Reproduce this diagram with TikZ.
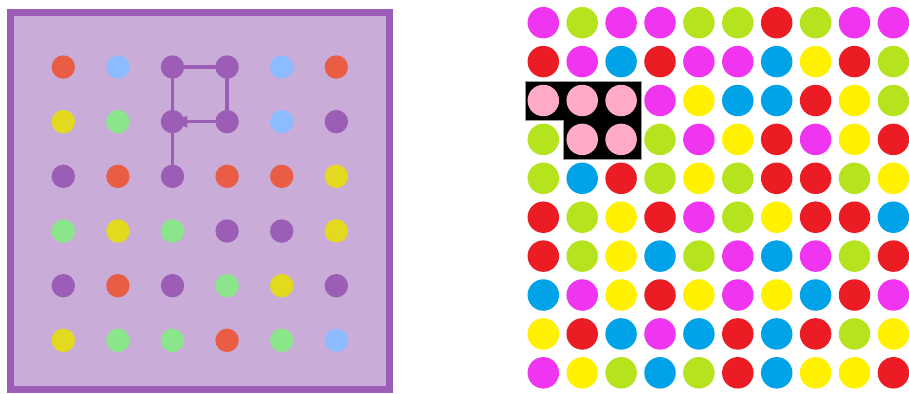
\documentclass[tikz,border=0pt]{standalone}
\usetikzlibrary{arrows.meta,backgrounds}
\definecolor{boxfill}{HTML}{C9ADD8}
\definecolor{lpurple}{HTML}{9B5DB5}
\definecolor{lred}{HTML}{E95D45}
\definecolor{lblue}{HTML}{8CBBFF}
\definecolor{lyellow}{HTML}{E3DA1F}
\definecolor{lgreen}{HTML}{8BE68B}
\definecolor{rmag}{HTML}{F035F0}
\definecolor{rlime}{HTML}{B5E31E}
\definecolor{rred}{HTML}{EC1C24}
\definecolor{rblue}{HTML}{00A2E8}
\definecolor{ryellow}{HTML}{FFF100}
\definecolor{rpink}{HTML}{FFAAC9}

\begin{document}
\begin{tikzpicture}[x=0.02cm, y=-0.02cm,
  ldot/.style={circle, inner sep=0pt, minimum size=0.468cm},
  rdot/.style={circle, inner sep=0pt, minimum size=0.63cm},
  link/.style={draw=lpurple, line width=2pt}]
\useasboundingbox (0,0) rectangle (909,393);
% left board
\foreach \rowlist [count=\r] in {
  {lred,lblue,lpurple,lpurple,lblue,lred},
  {lyellow,lgreen,lpurple,lpurple,lblue,lpurple},
  {lpurple,lred,lpurple,lred,lred,lyellow},
  {lgreen,lyellow,lgreen,lpurple,lpurple,lyellow},
  {lpurple,lred,lpurple,lgreen,lyellow,lpurple},
  {lyellow,lgreen,lgreen,lred,lgreen,lblue}}{
  \foreach \clr [count=\c] in \rowlist
    \node[ldot, fill=\clr] (l-\r-\c) at ({63.3+54.6*(\c-1)},{67+54.67*(\r-1)}) {};
}
\begin{scope}[on background layer]
\draw[draw=lpurple, fill=boxfill, line width=0.14cm] (10.5,12.5) rectangle (389,389.5);
\draw[link] (l-3-3.center) -- (l-2-3.center) -- (l-1-3.center) -- (l-1-4.center) -- (l-2-4.center);
\draw[link, -{Triangle[length=0.3cm, width=0.22cm]}] (l-2-4.center) -- (l-2-3.center);
\end{scope}
% right board
\draw[fill=black, draw=black!40, line width=0.4pt]
  (525,81) -- (641,81) -- (641,159) -- (563,159) -- (563,120) -- (525,120) -- cycle;
\foreach \rowlist [count=\r] in {
  {rmag,rlime,rmag,rmag,rlime,rlime,rred,rlime,rmag,rmag},
  {rred,rmag,rblue,rred,rmag,rmag,rblue,ryellow,rred,rlime},
  {rpink,rpink,rpink,rmag,ryellow,rblue,rblue,rred,ryellow,rlime},
  {rlime,rpink,rpink,rlime,rmag,ryellow,rred,rmag,ryellow,rred},
  {rlime,rblue,rred,rlime,ryellow,rlime,rred,rred,rlime,ryellow},
  {rred,rlime,ryellow,rred,rmag,rlime,ryellow,rred,rred,rblue},
  {rred,rlime,ryellow,rblue,rlime,rmag,rblue,rmag,rlime,rred},
  {rblue,rmag,ryellow,rred,ryellow,rmag,ryellow,rblue,rred,rmag},
  {ryellow,rred,rblue,rmag,rblue,rred,rblue,rred,rlime,ryellow},
  {rmag,ryellow,rlime,rblue,rlime,rred,rblue,ryellow,ryellow,rred}}{
  \foreach \clr [count=\c] in \rowlist
    \node[rdot, fill=\clr] (r-\r-\c) at ({543.3+38.9*(\c-1)},{22.7+38.9*(\r-1)}) {};
}
\end{tikzpicture}
\end{document}
